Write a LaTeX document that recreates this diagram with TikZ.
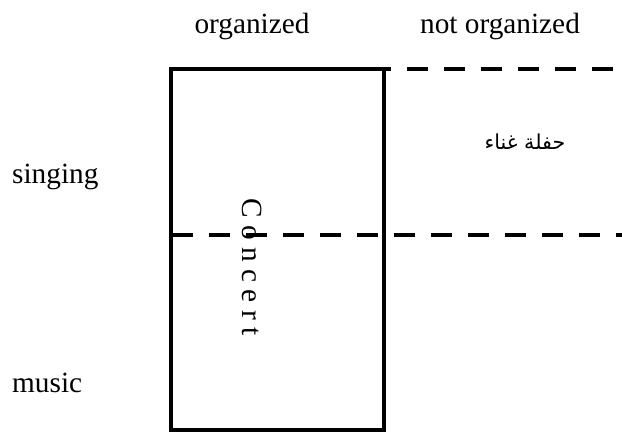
\documentclass[tikz,border=0pt]{standalone}
\usepackage{fontspec}
\setmainfont{Liberation Serif}
\newfontfamily\arabicfont[Script=Arabic]{DejaVu Sans}
\TeXXeTstate=1

\begin{document}
\begin{tikzpicture}[x=1pt,y=-1pt,
  frame/.style={line width=4pt},
  divider/.style={line width=4pt, dash pattern=on 21pt off 16pt},
  txt/.style={font=\fontsize{29.3}{32}\selectfont, inner sep=0pt}]
\useasboundingbox (0,0) rectangle (622,432);

% the solid box of the "organized" column
\coordinate (boxTL) at (171,69);
\coordinate (boxBR) at (384,430);
\draw[frame] (boxTL) rectangle (boxBR);

% dashed continuations
\coordinate (topStart) at (370,69);
\coordinate (topEnd)   at (622,69);
\coordinate (midStart) at (172,235);
\coordinate (midEnd)   at (622,235);
\draw[divider] (topStart) -- (topEnd);
\draw[divider] (midStart) -- (midEnd);

% column and row headings
\node[txt, anchor=base] (org)    at (252,33)  {organized};
\node[txt, anchor=base] (notorg) at (500,33)  {not organized};
\node[txt, anchor=base west] (sing)  at (12,183) {singing};
\node[txt, anchor=base west] (music) at (12,392) {music};

% cell entries
\node[txt, rotate=-90] (concert) at (252,267) {C o n c e r t};
\node[inner sep=0pt, anchor=base, font=\arabicfont\fontsize{20.6}{22}\selectfont]
  (hafla) at (525,149) {\beginR حفلة غناء\endR};
\end{tikzpicture}
\end{document}
